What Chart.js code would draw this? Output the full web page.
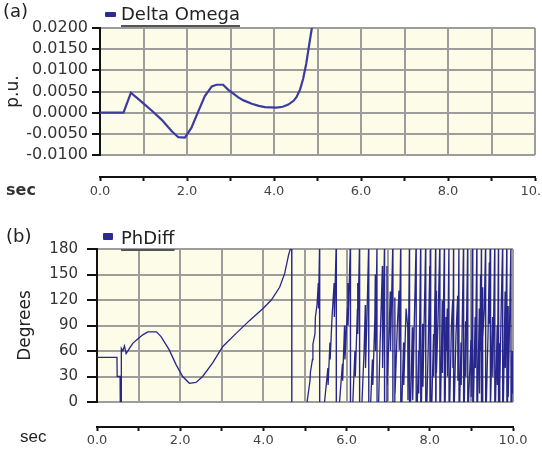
<!DOCTYPE html>
<html>
<head>
<meta charset="utf-8">
<script src="https://cdn.jsdelivr.net/npm/chart.js@4.4.1/dist/chart.umd.min.js"></script>
<style>
  body { margin: 0; background: #fff; }
  #wrap { position: relative; width: 542px; height: 453px; overflow: hidden; font-family: "DejaVu Sans", sans-serif; }
  canvas { position: absolute; left: 0; }
  .lbl { position: absolute; white-space: nowrap; line-height: 1; color: #222; }
  .key { position: absolute; background: #2b2b8f; border-radius: 1px; }
  .leg { text-decoration: underline; text-decoration-thickness: 2px; text-underline-offset: 5px; text-decoration-color: #555; }
</style>
</head>
<body>
<div id="wrap">
  <canvas id="chartA" width="542" height="205" style="top:0"></canvas>
  <canvas id="chartB" width="542" height="248" style="top:205px"></canvas>

  <div class="lbl" style="left:3px; top:2px; font-size:18px">(a)</div>
  <div class="key" style="left:105px; top:12px; width:11px; height:5px"></div>
  <div class="lbl leg" id="legA" style="left:121px; top:5px; font-size:18px"></div>
  <div class="lbl" style="left:6px; top:182px; font-size:16px; font-weight:bold; color:#333">sec</div>

  <div class="lbl" style="left:6px; top:227px; font-size:18px">(b)</div>
  <div class="key" style="left:103px; top:233px; width:10px; height:7px"></div>
  <div class="lbl leg" id="legB" style="left:121px; top:229px; font-size:18px"></div>
  <div class="lbl" style="left:20px; top:428px; font-size:17px; font-family:'Liberation Sans', sans-serif">sec</div>
</div>

<script>
// ---- panel (a): speed deviation ----
const omegaName = 'Delta Omega';
const omegaTime = [0, 0.54, 0.71, 0.85, 1.03, 1.2, 1.42, 1.65, 1.8, 1.95, 2.1, 2.26, 2.41, 2.57, 2.68, 2.83,
  2.95, 3.05, 3.18, 3.3, 3.49, 3.65, 3.79, 4.06, 4.2, 4.33, 4.45, 4.52, 4.6, 4.67, 4.74, 4.8, 4.87, 4.93];
const omegaValue = [0, 0, 0.0047, 0.0035, 0.0019, 0.0004, -0.0017, -0.0044, -0.0058, -0.0059, -0.0036, 0.0003,
  0.0039, 0.0062, 0.0066, 0.0066, 0.0054, 0.0046, 0.0036, 0.0029, 0.0021, 0.0016, 0.0013, 0.0012, 0.0014,
  0.0019, 0.0028, 0.0037, 0.0055, 0.0080, 0.0115, 0.0155, 0.0200, 0.0250];
const omegaTicks = { min: -0.01, max: 0.02, step: 0.005 };

// ---- panel (b): phase difference ----
const phaseName = 'PhDiff';
const phaseTime = [
  0, 0.48, 0.485, 0.555, 0.56, 0.58, 0.585, 0.62, 0.66, 0.7, 0.78, 0.86, 1.0, 1.1, 1.22, 1.43, 1.54, 1.74,
  1.9, 2.06, 2.22, 2.38, 2.54, 2.78, 3.02, 3.35, 3.67, 3.99, 4.19, 4.39, 4.51, 4.61, 4.68,
  4.684, 5.05, 5.12, 5.13, 5.18, 5.19, 5.24, 5.25, 5.29, 5.32, 5.325, 5.35,
  5.354, 5.47, 5.55, 5.555, 5.6, 5.605, 5.65, 5.7, 5.705, 5.75,
  5.754, 5.83, 5.9, 5.905, 5.95, 5.96, 6.02, 6.03, 6.035, 6.09,
  6.094, 6.15, 6.2, 6.21, 6.26, 6.265, 6.27, 6.31,
  6.314, 6.37, 6.42, 6.45, 6.455, 6.49, 6.53,
  6.534, 6.58, 6.62, 6.63, 6.68, 6.69, 6.695, 6.73,
  6.734, 6.77, 6.8, 6.86, 6.865, 6.91,
  6.914, 6.95, 6.97, 6.975, 7.02, 7.05, 7.055, 7.11,
  7.114, 7.14, 7.16, 7.165, 7.22, 7.26, 7.265, 7.3,
  7.304, 7.33, 7.37, 7.375, 7.43, 7.47, 7.475, 7.51,
  7.514, 7.54, 7.58, 7.59, 7.63, 7.67,
  7.674, 7.7, 7.73, 7.735, 7.78,
  7.784, 7.8, 7.83, 7.835, 7.9,
  7.904, 7.93, 7.96, 8.0, 8.005, 8.02,
  8.024, 8.05, 8.09, 8.095, 8.14,
  8.144, 8.155, 8.16, 8.2, 8.24,
  8.244, 8.26, 8.3, 8.305, 8.35,
  8.354, 8.37, 8.39, 8.395, 8.42, 8.425, 8.46,
  8.464, 8.48, 8.52, 8.55, 8.555, 8.57,
  8.574, 8.59, 8.63, 8.67, 8.675, 8.7,
  8.704, 8.72, 8.75, 8.755, 8.81,
  8.814, 8.83, 8.86, 8.865, 8.91,
  8.914, 8.93, 8.99, 8.995, 9.03,
  9.034, 9.05, 9.09, 9.095, 9.13,
  9.134, 9.15, 9.19, 9.195, 9.22, 9.225, 9.24,
  9.244, 9.26, 9.27, 9.275, 9.31, 9.34,
  9.344, 9.36, 9.4, 9.43, 9.435, 9.45,
  9.454, 9.47, 9.51, 9.515, 9.56,
  9.564, 9.58, 9.62, 9.625, 9.65,
  9.654, 9.67, 9.68, 9.685, 9.72, 9.75,
  9.754, 9.77, 9.81, 9.815, 9.85,
  9.854, 9.87, 9.88, 9.885, 9.92, 9.95,
  9.954, 9.97, 9.985, 10.0
];
const phaseValue = [
  52.5, 52.5, 30, 30, -5, -5, 63, 60, 66, 57, 63, 69, 75, 79, 82.5, 82.5, 77, 61,
  44, 30, 22, 23, 30, 46, 65, 81, 96, 110, 120, 135, 151, 174, 185,
  -170, 0, 25, 35, 50, 68, 80, 100, 115, 140, 110, 185,
  -170, 0, 40, 20, 70, 50, 100, 140, 100, 185,
  -170, 0, 45, 25, 90, 50, 110, 140, 90, 185,
  -170, 0, 60, 30, 110, 140, 80, 185,
  -170, 0, 60, 114, 40, 100, 185,
  -170, 0, 50, 20, 100, 150, 60, 185,
  -170, 0, 60, 160, 40, 185,
  -170, 0, 160, 20, 80, 130, 60, 185,
  -170, 0, 123, 10, 90, 131, 61, 185,
  -170, 0, 70, 20, 110, 88, 2, 185,
  -170, 0, 88, 2, 100, 185,
  -170, 0, 60, 10, 185,
  -170, 0, 92, 18, 185,
  -170, 0, 60, 160, 70, 185,
  -170, 0, 80, 30, 185,
  -170, 131, 34, 100, 185,
  -170, 0, 119, 34, 185,
  -170, 0, 100, 60, 110, 30, 185,
  -170, 0, 90, 120, 40, 185,
  -170, 0, 80, 125, 25, 185,
  -170, 0, 70, 20, 185,
  -170, 0, 95, 30, 185,
  -170, 0, 73, 6, 185,
  -170, 0, 100, 40, 185,
  -170, 0, 110, 10, 150, 60, 185,
  -170, 0, 135, 75, 110, 185,
  -170, 0, 80, 164, 92, 185,
  -170, 0, 100, 30, 185,
  -170, 0, 90, 20, 185,
  -170, 0, 69, 18, 120, 185,
  -170, 0, 130, 40, 185,
  -170, 0, 113, 6, 100, 185,
  -170, 0, 60, 10
];
const phaseTicks = { min: 0, max: 180, step: 30 };

const timeTicks = { min: 0, max: 10, step: 1 };

document.getElementById('legA').textContent = omegaName;
document.getElementById('legB').textContent = phaseName;

const plotBackground = {
  id: 'plotBackground',
  beforeDraw(chart) {
    const { ctx, chartArea } = chart;
    ctx.save();
    ctx.fillStyle = '#fdfce8';
    ctx.fillRect(chartArea.left, chartArea.top, chartArea.right - chartArea.left, chartArea.bottom - chartArea.top);
    ctx.restore();
  }
};

function toPoints(xs, ys) {
  return xs.map((x, i) => ({ x: x, y: ys[i] }));
}

// p holds the layout numbers for one panel
function makePanel(canvasId, xs, ys, name, yTicks, yLabel, decimals, p) {
  const gridGray = '#9d9d9d';
  return new Chart(document.getElementById(canvasId), {
    type: 'line',
    data: {
      datasets: [{
        label: name,
        data: toPoints(xs, ys),
        borderColor: p.lineColor,
        borderWidth: p.lineWidth,
        pointRadius: 0,
        tension: 0,
        clip: 0,
        xAxisID: 'x',
        yAxisID: 'y'
      }]
    },
    options: {
      responsive: false,
      animation: false,
      devicePixelRatio: 1,
      layout: { padding: { left: 0, top: p.top, right: p.right, bottom: 3 } },
      plugins: { legend: { display: false }, tooltip: { enabled: false } },
      scales: {
        x: {
          type: 'linear', position: 'bottom', weight: 0,
          min: timeTicks.min, max: timeTicks.max,
          ticks: { display: false, stepSize: timeTicks.step, autoSkip: false },
          grid: {
            color: c => (c.tick && c.tick.value === 0) ? 'rgba(0,0,0,0)' : gridGray,
            lineWidth: 2, drawTicks: false
          },
          border: { display: false },
          afterFit: s => { s.height = p.gap; s.paddingLeft = 0; s.paddingRight = 0; }
        },
        x2: {
          type: 'linear', position: 'bottom', weight: 1,
          min: timeTicks.min, max: timeTicks.max,
          ticks: {
            stepSize: timeTicks.step, autoSkip: false, maxRotation: 0, padding: p.xPad,
            color: '#444', font: { family: 'DejaVu Sans', size: 13 },
            callback: v => (v % 2 === 0 ? v.toFixed(1) : '')
          },
          grid: { drawOnChartArea: false, color: '#111', tickLength: 4, tickWidth: 2 },
          border: { color: '#111', width: 2 },
          afterFit: s => { s.height = p.axisH; s.paddingLeft = 0; s.paddingRight = 0; }
        },
        y: {
          type: 'linear', position: 'left',
          min: yTicks.min, max: yTicks.max,
          ticks: {
            stepSize: yTicks.step, autoSkip: false, padding: p.tickPad, color: '#333',
            font: { family: 'DejaVu Sans', size: p.tickFont },
            callback: v => v.toFixed(decimals)
          },
          grid: { color: gridGray, lineWidth: 2, tickLength: p.tickLen, tickColor: '#111', tickWidth: 2 },
          border: { color: '#111', width: 2 },
          title: {
            display: true, text: yLabel, color: '#222',
            font: { family: 'DejaVu Sans', size: 17 },
            padding: { top: p.titlePad, bottom: 0 }
          },
          afterFit: s => { s.width = p.left; s.paddingTop = 0; s.paddingBottom = 0; }
        }
      }
    },
    plugins: [plotBackground]
  });
}

makePanel('chartA', omegaTime, omegaValue, omegaName, omegaTicks, 'p.u.', 4, {
  top: 28, right: 7, left: 100, gap: 22, axisH: 25, xPad: 3,
  tickPad: 4, tickLen: 8, tickFont: 16, titlePad: 3,
  lineColor: '#3b3ba0', lineWidth: 2.2
});

makePanel('chartB', phaseTime, phaseValue, phaseName, phaseTicks, 'Degrees', 0, {
  top: 44, right: 29, left: 97, gap: 25, axisH: 23, xPad: 2,
  tickPad: 9, tickLen: 10, tickFont: 15, titlePad: 15,
  lineColor: '#26268c', lineWidth: 1.3
});
</script>
</body>
</html>
